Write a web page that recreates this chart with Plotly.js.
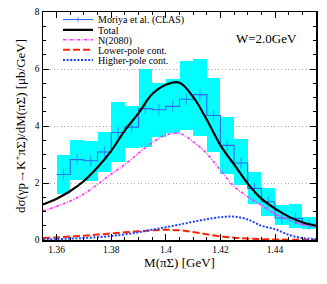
<!DOCTYPE html>
<html>
<head>
<meta charset="utf-8">
<script src="https://cdn.plot.ly/plotly-3.0.1.min.js"></script>
<style>html,body{margin:0;padding:0;background:#fff;}#chart{width:327px;height:284px;}</style>
</head>
<body>
<div id="chart"></div>
<script>
// ---- data ----
var binCenters = [1.3625, 1.3675, 1.3725, 1.3775, 1.3825, 1.3875, 1.3925, 1.3975, 1.4025, 1.4075,
                  1.4125, 1.4175, 1.4225, 1.4275, 1.4325, 1.4375, 1.4425, 1.4475, 1.4525];
var binWidth = 0.005;
var clasValues = [2.30, 2.82, 2.78, 3.09, 3.77, 3.96, 4.61, 4.57, 4.69, 4.94,
                  5.10, 4.37, 3.32, 2.70, 1.81, 1.34, 0.77, 0.76, 0.55];
var bandUpper  = [3.00, 3.52, 3.48, 3.80, 4.83, 4.69, 5.99, 5.52, 5.64, 6.28,
                  6.35, 5.68, 4.33, 3.55, 2.39, 1.82, 1.22, 1.27, 0.80];
var bandLower  = [1.62, 2.10, 2.08, 2.39, 2.72, 3.22, 3.28, 3.62, 3.75, 3.86,
                  3.65, 3.10, 2.30, 1.94, 1.26, 0.84, 0.52, 0.42, 0.37];

var curveX = [1.355, 1.360, 1.365, 1.370, 1.375, 1.380, 1.385, 1.390, 1.395, 1.400, 1.405,
              1.410, 1.415, 1.420, 1.425, 1.430, 1.435, 1.440, 1.445, 1.450, 1.455];
var totalY = [1.25, 1.45, 1.72, 2.07, 2.55, 3.13, 3.85, 4.45, 5.12, 5.45, 5.52,
              5.02, 4.22, 3.32, 2.65, 1.98, 1.45, 1.10, 0.82, 0.62, 0.49];
var n2080Y = [1.02, 1.18, 1.37, 1.62, 1.95, 2.32, 2.65, 3.05, 3.42, 3.68, 3.74,
              3.45, 3.03, 2.45, 1.88, 1.52, 1.22, 0.92, 0.70, 0.54, 0.45];
var lowerY = [0.07, 0.09, 0.12, 0.15, 0.19, 0.23, 0.27, 0.31, 0.34, 0.36, 0.34,
              0.28, 0.20, 0.13, 0.08, 0.05, 0.03, 0.02, 0.01, 0.01, 0.01];
var higherY = [0.02, 0.03, 0.05, 0.07, 0.10, 0.14, 0.20, 0.27, 0.36, 0.45, 0.54,
               0.64, 0.73, 0.80, 0.82, 0.72, 0.50, 0.38, 0.18, 0.07, 0.03];

var seriesNames = ['Moriya et al. (CLAS)', 'Total', 'N(2080)', 'Lower-pole cont.', 'Higher-pole cont.'];
var yTickVals = [0, 2, 4, 6, 8];
var xTickVals = [1.36, 1.38, 1.40, 1.42, 1.44];

// ---- derived ----
var bandHeight = bandUpper.map(function (u, i) { return u - bandLower[i]; });
var stepX = [], stepY = [], stepSize = [];
binCenters.forEach(function (c, i) {
  stepX.push(c - binWidth / 2); stepY.push(clasValues[i]); stepSize.push(0);
  stepX.push(c); stepY.push(clasValues[i]); stepSize.push(8);
});
stepX.push(binCenters[binCenters.length - 1] + binWidth / 2);
stepY.push(clasValues[clasValues.length - 1]);
stepSize.push(0);

var serif = 'Liberation Serif, Times New Roman, serif';

var traces = [
  {type: 'bar', x: binCenters, y: bandHeight, base: bandLower, width: binWidth,
   marker: {color: '#00ffff', line: {width: 0}}, showlegend: false, hoverinfo: 'skip'},
  {type: 'scatter', mode: 'lines+markers', x: stepX, y: stepY, name: seriesNames[0],
   line: {color: '#2a6af5', width: 1.1, shape: 'hv'},
   marker: {symbol: 'line-ns-open', size: stepSize, color: '#2a6af5', line: {color: '#2a6af5', width: 1}},
   legend: 'legend'},
  {type: 'scatter', mode: 'lines', x: curveX, y: totalY, name: seriesNames[1],
   line: {color: '#000000', width: 2.2, shape: 'spline'}, legend: 'legend2'},
  {type: 'scatter', mode: 'lines', x: curveX, y: n2080Y, name: seriesNames[2],
   line: {color: '#ff33ff', width: 1.6, shape: 'spline', dash: '3px,1.5px,1px,1.5px'}, legend: 'legend3'},
  {type: 'scatter', mode: 'lines', x: curveX, y: lowerY, name: seriesNames[3],
   line: {color: '#ff2200', width: 2, shape: 'spline', dash: '7px,3px'}, legend: 'legend4'},
  {type: 'scatter', mode: 'lines', x: curveX, y: higherY, name: seriesNames[4],
   line: {color: '#1f3fff', width: 2, shape: 'spline', dash: '2px,1.6px'}, legend: 'legend5'}
];

function mkLegend(yp) {
  return {x: 0.055, y: yp, xanchor: 'left', yanchor: 'middle', bgcolor: 'rgba(0,0,0,0)',
          borderwidth: 0, font: {family: serif, size: 10, color: '#000'}, itemwidth: 30,
          tracegroupgap: 0};
}

var layout = {
  width: 327, height: 284,
  margin: {l: 43, r: 11, t: 5, b: 44},
  paper_bgcolor: '#ffffff', plot_bgcolor: '#ffffff',
  font: {family: serif, size: 10, color: '#000'},
  bargap: 0,
  xaxis: {
    range: [1.355, 1.455], tickvals: xTickVals, ticktext: xTickVals.map(function (v) { return String(+v.toFixed(2)); }),
    ticks: 'inside', ticklen: 6, tickwidth: 1, tickcolor: '#000',
    minor: {dtick: 0.005, ticks: 'inside', ticklen: 3, tickcolor: '#000', showgrid: false},
    showline: true, linecolor: '#000', linewidth: 1.5, mirror: 'allticks',
    showgrid: false, zeroline: false, tickfont: {family: serif, size: 9.5},
    title: {text: 'M(πΣ) [GeV]', font: {family: serif, size: 13}, standoff: 3},
    automargin: false
  },
  yaxis: {
    range: [0, 8], tickvals: yTickVals,
    ticks: 'inside', ticklen: 6, tickwidth: 1, tickcolor: '#000',
    minor: {dtick: 0.5, ticks: 'inside', ticklen: 3, tickcolor: '#000', showgrid: false},
    showline: true, linecolor: '#000', linewidth: 1.5, mirror: 'allticks',
    showgrid: true, gridcolor: '#a8a8a8', griddash: '1px,2.5px', gridwidth: 1,
    zeroline: false, tickfont: {family: serif, size: 9.5},
    title: {text: 'dσ(γp→K<sup>+</sup>πΣ)/dM(πΣ) [μb/GeV]', font: {family: serif, size: 13}, standoff: 6},
    automargin: false
  },
  legend: mkLegend(0.967),
  legend2: mkLegend(0.922),
  legend3: mkLegend(0.878),
  legend4: mkLegend(0.834),
  legend5: mkLegend(0.790),
  annotations: [{
    text: 'W=2.0GeV', xref: 'paper', yref: 'paper', x: 0.82, y: 0.885,
    xanchor: 'center', yanchor: 'middle', showarrow: false,
    font: {family: serif, size: 13, color: '#000'}
  }]
};

Plotly.newPlot('chart', traces, layout, {staticPlot: true, displayModeBar: false});
</script>
</body>
</html>
